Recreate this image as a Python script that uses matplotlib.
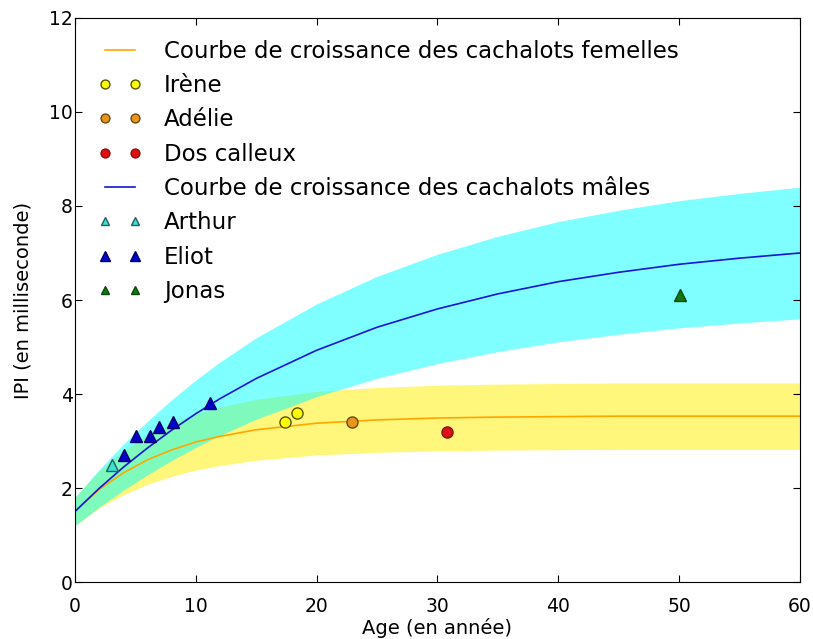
import matplotlib.pyplot as plt

# ages (années) auxquels les courbes de croissance sont tracées
ages = [0, 2, 4, 6, 8, 10, 12, 15, 20, 25, 30, 35, 40, 45, 50, 55, 60]
ipi_femelles = [1.50, 1.97, 2.32, 2.60, 2.81, 2.98, 3.10, 3.24, 3.38, 3.45,
                3.49, 3.51, 3.52, 3.53, 3.53, 3.53, 3.53]
ipi_males = [1.50, 1.99, 2.44, 2.85, 3.23, 3.58, 3.90, 4.33, 4.93, 5.42,
             5.81, 6.13, 6.39, 6.59, 6.76, 6.89, 7.00]
marge = 0.20  # enveloppe de +/- 20 % autour des courbes

# individus mesurés : (âge, IPI)
irene_age, irene_ipi = [17.4, 18.4], [3.4, 3.6]
adelie_age, adelie_ipi = [22.9], [3.4]
dos_age, dos_ipi = [30.8], [3.2]
arthur_age, arthur_ipi = [3.1], [2.5]
eliot_age = [4.1, 5.1, 6.2, 7.0, 8.1, 11.2]
eliot_ipi = [2.7, 3.1, 3.1, 3.3, 3.4, 3.8]
jonas_age, jonas_ipi = [50.1], [6.1]

fem_bas = [v * (1 - marge) for v in ipi_femelles]
fem_haut = [v * (1 + marge) for v in ipi_femelles]
mal_bas = [v * (1 - marge) for v in ipi_males]
mal_haut = [v * (1 + marge) for v in ipi_males]

fig = plt.figure(figsize=(8.13, 6.39), dpi=100)
ax = fig.add_axes([0.092, 0.089, 0.892, 0.883])

ax.fill_between(ages, fem_bas, fem_haut, color='#fff350', alpha=0.75, linewidth=0)
ax.plot(ages, ipi_femelles, color='orange', lw=1.2,
        label='Courbe de croissance des cachalots femelles')
ax.plot(irene_age, irene_ipi, 'o', color='yellow', mec='#555500', ms=8, label='Irène')
ax.plot(adelie_age, adelie_ipi, 'o', color='#e8951a', mec='#6a4a10', ms=8, label='Adélie')
ax.plot(dos_age, dos_ipi, 'o', color='#dd1111', mec='#881111', ms=8, label='Dos calleux')

ax.fill_between(ages, mal_bas, mal_haut, color='cyan', alpha=0.5, linewidth=0)
ax.plot(ages, ipi_males, color='#1515d5', lw=1.2,
        label='Courbe de croissance des cachalots mâles')
ax.plot(arthur_age, arthur_ipi, '^', color='#40e0d0', mec='#206060', ms=8, label='Arthur')
ax.plot(eliot_age, eliot_ipi, '^', color='#0000cc', mec='#000066', ms=9, label='Eliot')
ax.plot(jonas_age, jonas_ipi, '^', color='#117711', mec='#0a4a0a', ms=8, label='Jonas')

ax.set_xlim(0, 60)
ax.set_ylim(0, 12)
ax.set_xticks(range(0, 61, 10))
ax.set_yticks(range(0, 13, 2))
ax.tick_params(direction='in', top=True, right=True, labelsize=13.5, length=5)
ax.tick_params(axis='x', pad=11)
ax.tick_params(axis='y', pad=1.5)
ax.set_xlabel('Age (en année)', fontsize=14, labelpad=1)
ax.set_ylabel('IPI (en milliseconde)', fontsize=14, labelpad=12)

ax.legend(loc='upper left', bbox_to_anchor=(0.02, 0.9775), borderaxespad=0,
          numpoints=2, frameon=False, fontsize=16.5, markerscale=0.8,
          handlelength=1.9, labelspacing=0.495, handletextpad=0.95)

fig.savefig('out.png', dpi=100)
